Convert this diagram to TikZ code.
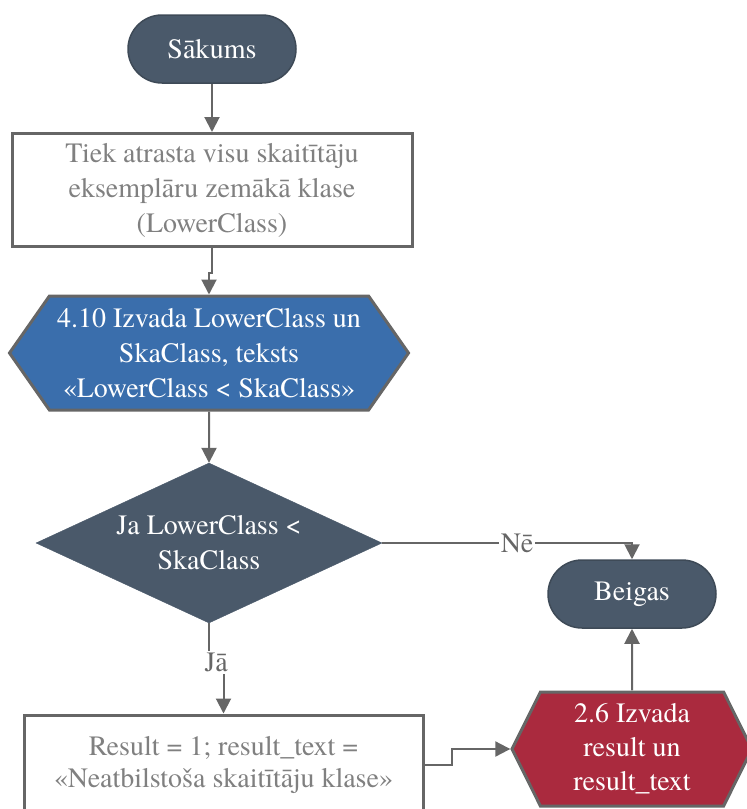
\documentclass[tikz,border=0pt]{standalone}
\usepackage{fontspec}
\setmainfont{TeX Gyre Termes}
\usetikzlibrary{positioning,calc,shapes.geometric,shapes.symbols,arrows.meta}
\definecolor{slatefill}{RGB}{74,89,106}
\definecolor{slateedge}{RGB}{62,74,87}
\definecolor{outblue}{RGB}{58,110,172}
\definecolor{outred}{RGB}{170,42,62}
\definecolor{linegray}{RGB}{102,102,102}
\definecolor{textgray}{RGB}{128,128,128}

\tikzset{
  base/.style={font=\rmfamily\fontsize{28}{35}\selectfont, align=center, inner sep=0pt},
  terminal/.style={base, rectangle, rounded corners=34pt, draw=slateedge, line width=1.5pt,
    fill=slatefill, text=white, minimum width=168pt, minimum height=68pt},
  procbox/.style={base, rectangle, draw=linegray, line width=3pt, fill=white, text=textgray},
  outhex/.style={base, signal, signal to=west and east, draw=linegray, line width=3pt, text=white},
  decision/.style={base, diamond, fill=slatefill, draw=slatefill, text=white,
    minimum width=346pt, minimum height=160pt, aspect=2.16},
  conn/.style={draw=linegray, line width=2pt, -{Triangle[length=15pt,width=15pt]}},
  lbl/.style={font=\rmfamily\fontsize{28}{30}\selectfont, fill=white, text=linegray, inner sep=2pt}
}

\begin{document}
\begin{tikzpicture}[x=1pt,y=-1pt]
  \useasboundingbox (0,0) rectangle (747,809);
  % nodes
  \node[terminal] (start) at (212,49) {Sākums};
  \node[procbox, minimum width=400pt, minimum height=113pt] (find) at (212,190)
    {Tiek atrasta visu skaitītāju\\eksemplāru zemākā klase\\(LowerClass)};
  \node[outhex, fill=outblue, minimum width=399pt, minimum height=114pt,
        signal pointer angle=110] (showlow) at (209,353)
    {4.10 Izvada LowerClass un\\SkaClass, teksts\\«LowerClass < SkaClass»};
  \node[decision] (check) at (209,543) {Ja LowerClass <\\SkaClass};
  \node[terminal] (stop) at (632,594) {Beigas};
  \node[procbox, minimum width=399pt, minimum height=100pt,
        font=\rmfamily\fontsize{28}{32}\selectfont] (result) at (223.5,765)
    {Result = 1; result\_text =\\«Neatbilstoša skaitītāju klase»};
  \node[outhex, fill=outred, minimum width=240pt, minimum height=114pt,
        signal pointer angle=127, font=\rmfamily\fontsize{28}{34}\selectfont] (showres) at (632,749)
    {2.6 Izvada\\result un\\result\_text};
  % connectors
  \draw[conn] (start) -- (find);
  \draw[conn] (find.south) -- ++(0,25) -| (showlow.north);
  \draw[conn] (showlow) -- (check);
  \draw[conn] (check.east) -| (stop.north) node[lbl, pos=0.27] {Nē};
  \draw[conn] (check.south) -- ++(0,39) -| (result.north) node[lbl, pos=0.25] {Jā};
  \draw[conn] (result.east) -- ++(27,0) |- (showres.west);
  \draw[conn] (showres) -- (stop);
\end{tikzpicture}
\end{document}
